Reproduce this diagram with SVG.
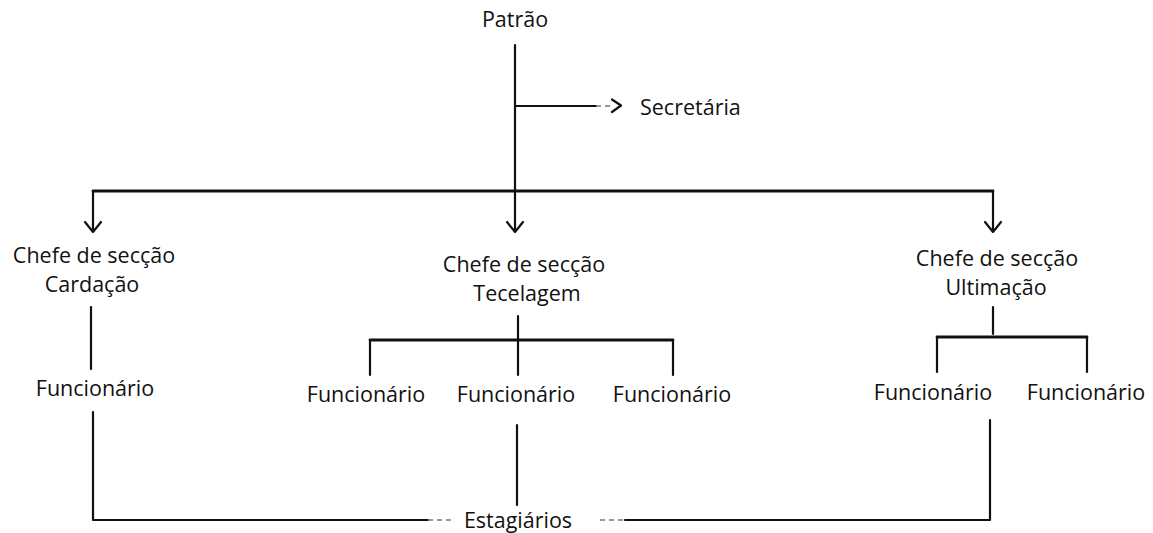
<svg xmlns="http://www.w3.org/2000/svg" width="1153" height="533" viewBox="0 0 1153 533">
<style>
text{font-family:"Open Sans","Noto Sans","Liberation Sans",sans-serif;font-size:21.5px;fill:#111;text-anchor:middle}
.ln{fill:none;stroke:#111;stroke-width:2.2;stroke-linecap:round;stroke-linejoin:round}
.thick{stroke-width:2.8}
.faint{fill:none;stroke:#777;stroke-width:1.4;stroke-dasharray:5 4}
</style>
<rect width="1153" height="533" fill="#fff"/>
<g id="connectors">
<path class="ln" d="M515 45V191"/>
<path class="ln" d="M515 106H596"/>
<path class="faint" d="M596 106H612"/>
<path class="ln" d="M612 99.5L621 105.5L612 112"/>
<path class="ln thick" d="M93 191H993"/>
<path class="ln" d="M93 191V232M85 222L93 232L101 222"/>
<path class="ln" d="M515 191V232M507 222L515 232L523 222"/>
<path class="ln" d="M993 191V232M985 222L993 232L1001 222"/>
<path class="ln" d="M91 307V369"/>
<path class="ln" d="M93 412V520H428"/>
<path class="faint" d="M428 520H452"/>
<path class="faint" d="M600 520H625"/>
<path class="ln" d="M625 520H990V420"/>
<path class="ln" d="M518 316V339"/>
<path class="ln thick" d="M370 340H673"/>
<path class="ln" d="M370 340V375M518 340V375M673 340V375"/>
<path class="ln" d="M517 425V505"/>
<path class="ln" d="M993 307V334"/>
<path class="ln thick" d="M937 337H1087"/>
<path class="ln" d="M937 337V372M1087 337V372"/>
</g>
<g id="patrao"><text x="515" y="27">Patrão</text></g>
<g id="secretaria"><text x="640" y="115" style="text-anchor:start">Secretária</text></g>
<g id="chefe-cardacao"><text x="94" y="263">Chefe de secção</text><text x="92" y="292">Cardação</text></g>
<g id="chefe-tecelagem"><text x="524" y="272">Chefe de secção</text><text x="527" y="301">Tecelagem</text></g>
<g id="chefe-ultimacao"><text x="997" y="266">Chefe de secção</text><text x="996" y="295">Ultimação</text></g>
<g id="func-cardacao"><text x="95" y="396">Funcionário</text></g>
<g id="func-tecelagem-1"><text x="366" y="402">Funcionário</text></g>
<g id="func-tecelagem-2"><text x="516" y="402">Funcionário</text></g>
<g id="func-tecelagem-3"><text x="672" y="402">Funcionário</text></g>
<g id="func-ultimacao-1"><text x="933" y="400">Funcionário</text></g>
<g id="func-ultimacao-2"><text x="1086" y="400">Funcionário</text></g>
<g id="estagiarios"><text x="518" y="528">Estagiários</text></g>
</svg>
